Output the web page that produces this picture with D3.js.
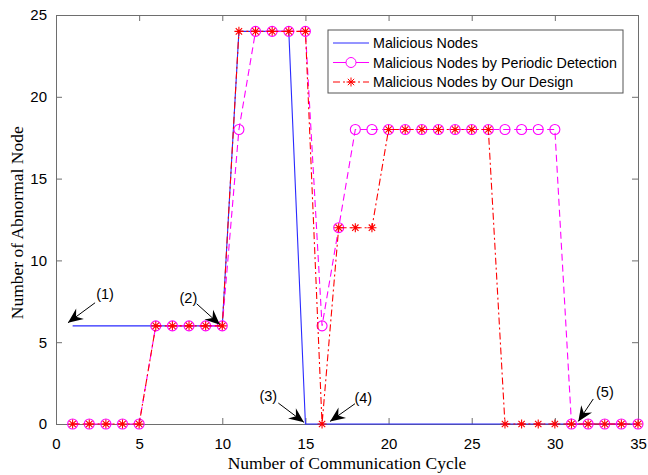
<!DOCTYPE html>
<html>
<head>
<meta charset="utf-8">
<script src="https://cdn.jsdelivr.net/npm/d3@7"></script>
<style>
  body { margin: 0; background: #fff; }
  svg { display: block; }
</style>
</head>
<body>
<div class="container"></div>
<script>
// communication cycles 1..35
var cycles = d3.range(1, 36);

// number of nodes per cycle
var malicious = [6,6,6,6,6,6,6,6,6,6, 24,24,24,24,0,0,0,0,0,0, 0,0,0,0,0,0,0,0,0,0, 0,0,0,0,0];
var periodic  = [0,0,0,0,0,6,6,6,6,6, 18,24,24,24,24,6,12,18,18,18, 18,18,18,18,18,18,18,18,18,18, 0,0,0,0,0];
var ourDesign = [0,0,0,0,0,6,6,6,6,6, 24,24,24,24,24,0,12,12,12,18, 18,18,18,18,18,18,0,0,0,0, 0,0,0,0,0];

var seriesNames = ["Malicious Nodes", "Malicious Nodes by Periodic Detection", "Malicious Nodes by Our Design"];

var xTicks = [0, 5, 10, 15, 20, 25, 30, 35];
var yTicks = [0, 5, 10, 15, 20, 25];

// annotation labels: [label, text x, text y, arrow start x, arrow start y, tip x, tip y] in data units
var notes = [
  ["(1)", 2.95, 7.96, 2.35, 7.41, 0.72, 6.19],
  ["(2)", 7.96, 7.70, 8.46, 7.35, 9.86, 6.07],
  ["(3)", 12.77, 1.69, 13.37, 1.28, 14.91, 0.10],
  ["(4)", 18.48, 1.59, 17.98, 1.24, 16.48, 0.16],
  ["(5)", 33.01, 1.99, 32.31, 1.53, 31.41, 0.16]
];

var width = 648, height = 475;
var margin = {top: 15, right: 10, bottom: 51, left: 56};
var axisColor = "#6e6e6e";

var svg = d3.select(".container").append("svg")
  .attr("width", width).attr("height", height);

var x = d3.scaleLinear().domain([0, 35]).range([margin.left, width - margin.right]);
var y = d3.scaleLinear().domain([0, 25]).range([height - margin.bottom, margin.top]);

// axes, ticks pointing inward like matlab
var tickLen = 6;
svg.append("g")
  .attr("transform", "translate(0," + y(0) + ")")
  .call(d3.axisBottom(x).tickValues(xTicks).tickSize(-tickLen).tickPadding(14).tickSizeOuter(0))
  .call(styleAxis);
svg.append("g")
  .attr("transform", "translate(0," + y(25) + ")")
  .call(d3.axisTop(x).tickValues(xTicks).tickSize(-tickLen).tickFormat("").tickSizeOuter(0))
  .call(styleAxis);
svg.append("g")
  .attr("transform", "translate(" + x(0) + ",0)")
  .call(d3.axisLeft(y).tickValues(yTicks).tickSize(-tickLen).tickPadding(9).tickSizeOuter(0))
  .call(styleAxis);
svg.append("g")
  .attr("transform", "translate(" + x(35) + ",0)")
  .call(d3.axisRight(y).tickValues(yTicks).tickSize(-tickLen).tickFormat("").tickSizeOuter(0))
  .call(styleAxis);

function styleAxis(g) {
  g.select(".domain").attr("stroke", axisColor).attr("stroke-width", 1);
  g.selectAll(".tick line").attr("stroke", axisColor);
  g.selectAll(".tick text")
    .attr("fill", "#000")
    .style("font-family", "'Liberation Sans', Arial, sans-serif")
    .style("font-size", "15px");
}

// axis titles
svg.append("text")
  .attr("x", x(17.5)).attr("y", 469)
  .attr("text-anchor", "middle")
  .style("font-family", "'Liberation Serif', 'Times New Roman', serif")
  .style("font-size", "17.5px")
  .text("Number of Communication Cycle");
svg.append("text")
  .attr("transform", "translate(23," + y(12.3) + ") rotate(-90)")
  .attr("text-anchor", "middle")
  .style("font-family", "'Liberation Serif', 'Times New Roman', serif")
  .style("font-size", "17.5px")
  .text("Number of Abnormal Node");

var line = d3.line()
  .x(function(d, i) { return x(cycles[i]); })
  .y(function(d) { return y(d); });

// blue solid
svg.append("path").datum(malicious)
  .attr("d", line).attr("fill", "none")
  .attr("stroke", "#2a2aff").attr("stroke-width", 1.1);

// magenta dashed with circles
svg.append("path").datum(periodic)
  .attr("d", line).attr("fill", "none")
  .attr("stroke", "#ff00ff").attr("stroke-width", 1.1)
  .attr("stroke-dasharray", "7,4");
svg.append("g").selectAll("circle")
  .data(periodic).enter().append("circle")
  .attr("cx", function(d, i) { return x(cycles[i]); })
  .attr("cy", function(d) { return y(d); })
  .attr("r", 5)
  .attr("fill", "none").attr("stroke", "#ff00ff").attr("stroke-width", 1.1);

// red dash-dot with asterisks
var star = function(s) {
  var a = s * 0.707;
  return "M" + (-s) + ",0H" + s + "M0," + (-s) + "V" + s +
         "M" + (-a) + "," + (-a) + "L" + a + "," + a +
         "M" + (-a) + "," + a + "L" + a + "," + (-a);
};
svg.append("path").datum(ourDesign)
  .attr("d", line).attr("fill", "none")
  .attr("stroke", "#ff0000").attr("stroke-width", 1.1)
  .attr("stroke-dasharray", "7,3,2,3");
svg.append("g").selectAll("path")
  .data(ourDesign).enter().append("path")
  .attr("transform", function(d, i) { return "translate(" + x(cycles[i]) + "," + y(d) + ")"; })
  .attr("d", star(4.5))
  .attr("fill", "none").attr("stroke", "#ff0000").attr("stroke-width", 1.1);

// annotations with black arrows
var note = svg.append("g").selectAll("g").data(notes).enter().append("g");
note.append("text")
  .attr("x", function(d) { return x(d[1]); })
  .attr("y", function(d) { return y(d[2]); })
  .attr("dy", "0.35em")
  .attr("text-anchor", "middle")
  .style("font-family", "'Liberation Sans', Arial, sans-serif")
  .style("font-size", "14.5px")
  .text(function(d) { return d[0]; });
note.append("line")
  .attr("x1", function(d) { return x(d[3]); })
  .attr("y1", function(d) { return y(d[4]); })
  .attr("x2", function(d) { return x(d[5]); })
  .attr("y2", function(d) { return y(d[6]); })
  .attr("stroke", "#000").attr("stroke-width", 1);
note.append("path")
  .attr("transform", function(d) {
    var dx = x(d[5]) - x(d[3]), dy = y(d[6]) - y(d[4]);
    var ang = Math.atan2(dy, dx) * 180 / Math.PI;
    return "translate(" + x(d[5]) + "," + y(d[6]) + ") rotate(" + ang + ")";
  })
  .attr("d", "M0,0L-15,-6.5L-10,0L-15,6.5Z")
  .attr("fill", "#000");

// legend
var lg = svg.append("g").attr("transform", "translate(328,30)");
lg.append("rect")
  .attr("width", 295).attr("height", 63)
  .attr("fill", "#fff").attr("stroke", "#555").attr("stroke-width", 1);
var rows = lg.selectAll("g.row").data(seriesNames).enter().append("g")
  .attr("class", "row")
  .attr("transform", function(d, i) { return "translate(0," + (13 + i * 19.5) + ")"; });
rows.append("line")
  .attr("x1", 5).attr("x2", 41).attr("y1", 0).attr("y2", 0)
  .attr("stroke", function(d, i) { return ["#2a2aff", "#ff00ff", "#ff0000"][i]; })
  .attr("stroke-dasharray", function(d, i) { return [null, null, "7,3,2,3"][i]; });
rows.filter(function(d, i) { return i === 1; }).append("circle")
  .attr("cx", 23).attr("cy", 0).attr("r", 5)
  .attr("fill", "#fff").attr("stroke", "#ff00ff");
rows.filter(function(d, i) { return i === 2; }).append("path")
  .attr("transform", "translate(23,0)")
  .attr("d", star(4.5))
  .attr("fill", "none").attr("stroke", "#ff0000");
rows.append("text")
  .attr("x", 45).attr("dy", "0.35em")
  .style("font-family", "'Liberation Sans', Arial, sans-serif")
  .style("font-size", "14.3px")
  .text(function(d) { return d; });
</script>
</body>
</html>
